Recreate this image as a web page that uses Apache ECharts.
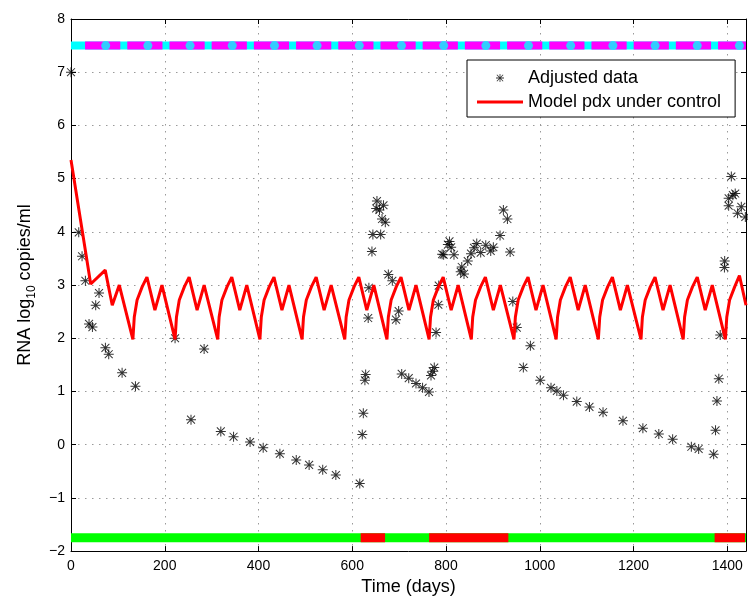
<!DOCTYPE html>
<html>
<head>
<meta charset="utf-8">
<script src="https://cdn.jsdelivr.net/npm/echarts@6/dist/echarts.min.js"></script>
<style>
html, body { margin: 0; padding: 0; background: #fff; }
#chart { width: 748px; height: 601px; }
</style>
</head>
<body>
<div id="chart"></div>
<script>
// measured data (days, log10 copies/ml)
var dataDays = [0, 16.5, 23.6, 30.7, 38.5, 45.7, 52.7, 59.8, 73.4, 80.5, 109, 137.5,
    222, 256, 284, 319.6, 346.8, 382, 410, 445.6, 480.5, 508, 537, 565, 616,
    621.4, 623.6, 627, 628.6, 634, 635.5, 642, 644, 651, 652.7, 658, 660.6, 663.5, 666.6, 670.5,
    677, 685.5, 693.3, 699, 705.5, 720.5, 736, 750, 763.7, 768, 771.6, 775, 778.8, 783.7, 784.5,
    791.7, 795, 804, 807.4, 811, 817, 831.4, 833.6, 838.4, 846.4, 853.4, 859.8, 865.6, 874,
    884.8, 895.4, 901, 915.3, 922.4, 931, 936.8, 942.5, 951, 965, 980,
    1001, 1024, 1036.5, 1050.6, 1079, 1106, 1135, 1177.5, 1220, 1254, 1283.5, 1323.4, 1339,
    1371, 1375, 1378, 1382, 1385, 1394, 1394.5, 1403, 1403, 1408.7, 1412, 1417, 1422, 1430, 1438.6];
var dataRna = [7.0, 3.99, 3.54, 3.08, 2.27, 2.21, 2.62, 2.85, 1.82, 1.70, 1.35, 1.10,
    2.0, 0.47, 1.80, 0.25, 0.15, 0.05, -0.06, -0.17, -0.29, -0.38, -0.47, -0.57, -0.73,
    0.19, 0.59, 1.21, 1.32, 2.38, 2.95, 3.63, 3.95, 4.44, 4.58, 4.41, 3.95, 4.24, 4.50, 4.18,
    3.20, 3.08, 2.35, 2.51, 1.33, 1.25, 1.15, 1.07, 0.99, 1.30, 1.38, 1.45, 2.11, 2.63, 2.99,
    3.58, 3.57, 3.76, 3.82, 3.71, 3.57, 3.25, 3.34, 3.21, 3.45, 3.59, 3.70, 3.78, 3.61,
    3.75, 3.64, 3.71, 3.93, 4.41, 4.24, 3.62, 2.69, 2.20, 1.45, 1.86,
    1.21, 1.07, 1.01, 0.93, 0.81, 0.71, 0.61, 0.45, 0.31, 0.20, 0.10, -0.04, -0.08,
    -0.18, 0.27, 0.82, 1.24, 2.06, 3.33, 3.45, 4.49, 4.63, 5.04, 4.69, 4.72, 4.35, 4.47, 4.28];

// model curve, one treatment cycle per line
var modelDays = [0, 42, 73, 88, 103,
    132, 135, 141, 152, 162, 179, 194,
    222, 225, 231, 242, 252, 269, 284,
    313, 316, 322, 333, 343, 360, 375,
    403, 406, 412, 423, 433, 450, 465,
    493, 496, 502, 513, 523, 540, 555,
    584, 587, 593, 604, 614, 631, 646,
    674, 677, 683, 694, 704, 721, 736,
    764, 767, 773, 784, 794, 811, 826,
    854, 857, 863, 874, 884, 901, 916,
    945, 948, 954, 965, 975, 992, 1007,
    1035, 1038, 1044, 1055, 1065, 1082, 1097,
    1125, 1128, 1134, 1145, 1155, 1172, 1187,
    1216, 1219, 1225, 1236, 1246, 1263, 1278,
    1306, 1309, 1315, 1326, 1336, 1353, 1368,
    1396, 1399, 1405, 1416, 1426, 1440];
var modelRna = [5.35, 3.02, 3.28, 2.62, 3.0,
    1.98, 2.4, 2.72, 2.97, 3.15, 2.53, 3.0,
    1.98, 2.4, 2.72, 2.97, 3.15, 2.53, 3.0,
    1.98, 2.4, 2.72, 2.97, 3.15, 2.53, 3.0,
    1.98, 2.4, 2.72, 2.97, 3.15, 2.53, 3.0,
    1.98, 2.4, 2.72, 2.97, 3.15, 2.53, 3.0,
    1.98, 2.4, 2.72, 2.97, 3.15, 2.53, 3.0,
    1.98, 2.4, 2.72, 2.97, 3.15, 2.53, 3.0,
    1.98, 2.4, 2.72, 2.97, 3.15, 2.53, 3.0,
    1.98, 2.4, 2.72, 2.97, 3.15, 2.53, 3.0,
    1.98, 2.4, 2.72, 2.97, 3.15, 2.53, 3.0,
    1.98, 2.4, 2.72, 2.97, 3.15, 2.53, 3.0,
    1.98, 2.4, 2.72, 2.97, 3.15, 2.53, 3.0,
    1.98, 2.4, 2.72, 2.97, 3.15, 2.53, 3.0,
    1.98, 2.4, 2.72, 2.97, 3.15, 2.53, 3.0,
    1.98, 2.4, 2.72, 2.97, 3.18, 2.62];

// top band (level 7.5) and bottom band (level -1.75)
var topLevel = 7.5;
var topMarkerDays = [74, 164, 254, 344, 434, 525, 615, 705, 795, 885, 976, 1066, 1156, 1246, 1336, 1426];
var topDashStart = 30;
var bottomLevel = -1.75;
var redStart = [618, 764, 1373];
var redEnd = [670, 933, 1438];
var xMax = 1440;

var FONT = '"Liberation Sans", Arial, Helvetica, sans-serif';
var ASTERISK = 'path://M0 9H20V11H0Z M9 0H11V20H9Z M1.4 2.8L2.8 1.4L18.6 17.2L17.2 18.6Z M17.2 1.4L18.6 2.8L2.8 18.6L1.4 17.2Z';
var LINE_ICON = 'path://M0 0H46V3H0Z';

var scatterData = dataDays.map(function (d, i) { return [d, dataRna[i]]; });
var modelData = modelDays.map(function (d, i) { return [d, modelRna[i]]; });

var series = [
    {
        type: 'line', data: [[0, topLevel], [xMax, topLevel]],
        symbol: 'none', silent: true, z: 1,
        lineStyle: { color: '#00ffff', width: 8 }
    },
    {
        type: 'line', data: [[topDashStart, topLevel], [xMax, topLevel]],
        symbol: 'none', silent: true, z: 2,
        lineStyle: { color: '#ff00ff', width: 8, type: [35.2, 7] }
    },
    {
        type: 'scatter', data: topMarkerDays.map(function (d) { return [d, topLevel]; }),
        symbol: 'circle', symbolSize: 9, silent: true, z: 3,
        itemStyle: { color: '#00ffff' }
    },
    {
        type: 'line', data: [[0, bottomLevel], [xMax, bottomLevel]],
        symbol: 'none', silent: true, z: 1,
        lineStyle: { color: '#00ff00', width: 9 }
    }
];
redStart.forEach(function (s, i) {
    series.push({
        type: 'line', data: [[s, bottomLevel], [redEnd[i], bottomLevel]],
        symbol: 'none', silent: true, z: 2,
        lineStyle: { color: '#ff0000', width: 9 }
    });
});
series.push({
    name: 'Adjusted data',
    type: 'scatter',
    data: scatterData,
    symbol: ASTERISK,
    symbolSize: 10,
    clip: false,
    z: 4,
    itemStyle: { color: '#000' }
});
series.push({
    name: 'Model pdx under control',
    type: 'line',
    data: modelData,
    symbol: 'none',
    showSymbol: false,
    z: 5,
    lineStyle: { color: '#ff0000', width: 3 }
});

var dotted = { show: true, lineStyle: { color: '#9a9a9a', width: 1, type: [1.5, 5.5] } };
var blackLine = { show: true, onZero: false, lineStyle: { color: '#000' } };
var inTick = { show: true, inside: true, length: 5, lineStyle: { color: '#000' } };

var option = {
    animation: false,
    backgroundColor: '#fff',
    textStyle: { fontFamily: FONT },
    grid: { left: 71, right: 2, top: 19, bottom: 43 },
    legend: {
        left: 467,
        top: 60,
        orient: 'vertical',
        data: [
            { name: 'Adjusted data', icon: ASTERISK },
            { name: 'Model pdx under control', icon: LINE_ICON, itemStyle: { color: '#ff0000' } }
        ],
        itemWidth: 46,
        itemHeight: 8,
        itemGap: 4,
        itemTextGap: 5,
        padding: [8, 14, 5, 10],
        borderColor: '#000',
        borderWidth: 1,
        backgroundColor: '#fff',
        textStyle: { fontSize: 18, color: '#000', fontFamily: FONT, lineHeight: 20 }
    },
    xAxis: [
        {
            type: 'value', min: 0, max: xMax, interval: 200,
            name: 'Time (days)', nameLocation: 'middle', nameGap: 22,
            nameTextStyle: { fontSize: 18, color: '#000', fontFamily: FONT },
            axisLine: blackLine,
            axisTick: inTick,
            axisLabel: {
                color: '#000', fontSize: 14, margin: 8, showMaxLabel: false, fontFamily: FONT,
                formatter: function (v) { return String(v); }
            },
            splitLine: dotted
        },
        {
            type: 'value', min: 0, max: xMax, interval: 200, position: 'top',
            axisLine: blackLine,
            axisTick: inTick,
            axisLabel: { show: false },
            splitLine: { show: false }
        }
    ],
    yAxis: [
        {
            type: 'value', min: -2, max: 8, interval: 1,
            name: '{n|RNA log}{s|10}{n| copies/ml}', nameLocation: 'middle', nameGap: 30,
            nameTextStyle: {
                color: '#000', fontFamily: FONT,
                rich: {
                    n: { fontSize: 18, lineHeight: 22, verticalAlign: 'top', color: '#000', fontFamily: FONT },
                    s: { fontSize: 12, lineHeight: 12, verticalAlign: 'bottom', color: '#000', fontFamily: FONT }
                }
            },
            axisLine: blackLine,
            axisTick: inTick,
            axisLabel: {
                color: '#000', fontSize: 14, margin: 6, fontFamily: FONT,
                formatter: function (v) { return String(v).replace('-', '\u2212'); }
            },
            splitLine: dotted
        },
        {
            type: 'value', min: -2, max: 8, interval: 1, position: 'right',
            axisLine: blackLine,
            axisTick: inTick,
            axisLabel: { show: false },
            splitLine: { show: false }
        }
    ],
    series: series
};

var chart = echarts.init(document.getElementById('chart'));
chart.setOption(option);
</script>
</body>
</html>
